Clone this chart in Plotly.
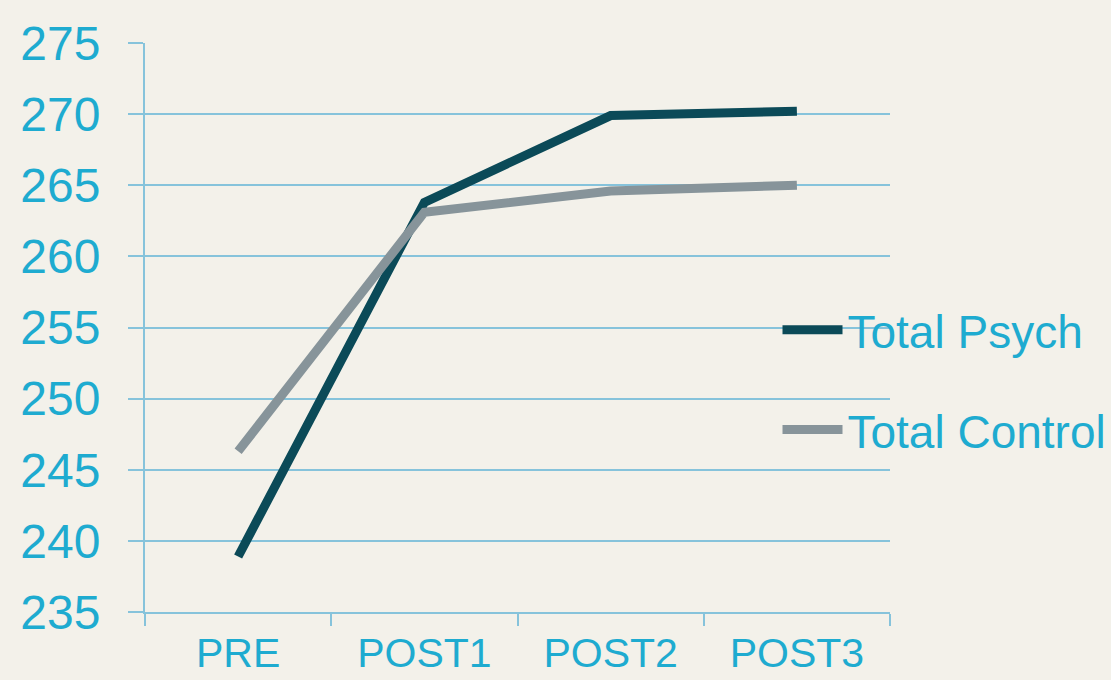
import plotly.graph_objects as go

categories = ["PRE", "POST1", "POST2", "POST3"]
psych = [238.9, 263.8, 269.9, 270.2]
control = [246.3, 263.1, 264.6, 265.0]
series_names = ["Total Psych", "Total Control"]

BG = "#F3F1EA"
GRID = "#86C3DB"
TXT = "#1EABD0"
DARK = "#0B4A58"
GRAY = "#87949A"
FONT = "Liberation Sans, Arial, sans-serif"

fig = go.Figure()
fig.add_trace(go.Scatter(x=categories, y=psych, mode="lines", name=series_names[0],
                         line=dict(color=DARK, width=9), legendgroup="a"))
fig.add_trace(go.Scatter(x=categories, y=control, mode="lines", name=series_names[1],
                         line=dict(color=GRAY, width=9), legendgroup="b"))

fig.update_layout(
    width=1111, height=680,
    paper_bgcolor=BG, plot_bgcolor=BG,
    margin=dict(l=145, r=221, t=43, b=68, autoexpand=False),
    font=dict(family=FONT, color=TXT, size=46),
    showlegend=True,
    legend=dict(x=0.849, xanchor="left", y=0.408, yanchor="middle",
                bgcolor="rgba(0,0,0,0)", font=dict(size=46, color=TXT),
                itemwidth=60, tracegroupgap=37, traceorder="grouped"),
    xaxis=dict(type="category", range=[-0.5, 3.5], tickson="boundaries", automargin=False,
               ticks="outside", ticklen=12, tickwidth=2, tickcolor=GRID,
               showline=True, linecolor=GRID, linewidth=2, showgrid=False,
               tickfont=dict(size=41, color=TXT, family=FONT), ticklabelstandoff=4),
    yaxis=dict(range=[235, 275], dtick=5, tick0=235, showgrid=True, gridcolor=GRID, gridwidth=2,
               automargin=False,
               ticks="outside", ticklen=15, tickwidth=2, tickcolor=GRID,
               showline=True, linecolor=GRID, linewidth=2, zeroline=False,
               tickfont=dict(size=48, color=TXT, family=FONT), ticklabelstandoff=18),
)

fig.write_html("out.html", config={"displayModeBar": False},
               post_script="document.body.style.margin='0';document.body.style.background='#F3F1EA';")
